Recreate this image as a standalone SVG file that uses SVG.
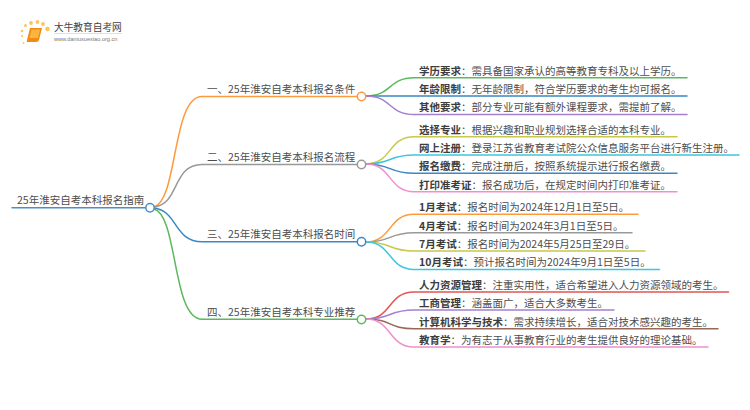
<svg xmlns="http://www.w3.org/2000/svg" width="750" height="410" viewBox="0 0 750 410">
<defs><style>
text{font-family:"Noto Sans CJK SC","Liberation Sans",sans-serif;fill:#4d4d4d;font-size:10.5px}
.b{font-weight:700;fill:#3d3d3d}
.c{fill:none;stroke-width:1.5;stroke-linecap:round}
.n{fill:#fff;stroke-width:1.5}
</style></defs>
<rect width="750" height="410" fill="#fff"/>
<g id="logo">
<g fill="#fbc55a"><circle cx="47.5" cy="29" r="2.3"/><circle cx="43" cy="24" r="1.9"/><circle cx="37.5" cy="22" r="1.9"/><circle cx="31" cy="23" r="1.9"/><circle cx="25.5" cy="25.5" r="1.5"/><circle cx="22" cy="31" r="1.3"/><circle cx="22" cy="36" r="1.1"/><circle cx="23.5" cy="43" r="0.9"/></g>
<path d="M30 28H42L39 40Q38.500 42 36 42H27Q26.500 42 27 40Z" fill="#f08c14"/><path d="M31.500 29.500H40L38 38H29.500Z" fill="#fbb540"/>
<text x="54" y="31" style="font-size:9.7px;fill:#444">大牛教育自考网</text>
<rect x="54" y="33" width="68" height="0.6" fill="#ccc"/>
<text x="54" y="41" style="font-size:5.6px;fill:#777;font-family:'Liberation Sans',sans-serif">www.daniuxuexiao.org.cn</text>
</g>
<g id="connectors">
<path class="c" stroke="#4a90c8" d="M12 207.700H146"/>
<path class="c" stroke="#ff9a3c" d="M154 207C178 200 172 96.500 202 96.500H358"/>
<path class="c" stroke="#999" d="M154 207C180 204 172 164.500 202 164.500H358"/>
<path class="c" stroke="#3a88c4" d="M154 208C178 211 174 241.800 202 241.800H358"/>
<path class="c" stroke="#5cb85c" d="M154 209C178 215 172 319.300 202 319.300H358"/>
<path class="c" stroke="#5cb85c" d="M366 96C392 96 388 77.700 414 77.700H687"/>
<path class="c" stroke="#3a88c4" d="M366 96H687"/>
<path class="c" stroke="#a67fd0" d="M366 96C392 96 388 114.500 414 114.500H687"/>
<path class="c" stroke="#c8c84a" d="M366 164C392 164 388 136.700 414 136.700H677"/>
<path class="c" stroke="#3ec6de" d="M366 164C392 164 388 155 414 155H739"/>
<path class="c" stroke="#3a88c4" d="M366 164C392 164 388 173.300 414 173.300H677"/>
<path class="c" stroke="#f08fd0" d="M366 164C392 164 388 191.700 414 191.700H677"/>
<path class="c" stroke="#ff9a3c" d="M366 242C392 242 388 214.300 414 214.300H638"/>
<path class="c" stroke="#999" d="M366 242C392 242 388 232.700 414 232.700H632"/>
<path class="c" stroke="#c8c84a" d="M366 242C392 242 388 251 414 251H645"/>
<path class="c" stroke="#3ec6de" d="M366 242C392 242 388 269.500 414 269.500H659.500"/>
<path class="c" stroke="#e05555" d="M366 319C392 319 388 292 414 292H728.500"/>
<path class="c" stroke="#a67fd0" d="M366 319C392 319 388 310 414 310H614"/>
<path class="c" stroke="#96695a" d="M366 319C392 319 388 328.700 414 328.700H718"/>
<path class="c" stroke="#f08fd0" d="M366 319C392 319 388 347 414 347H708"/>
</g>
<g id="root"><text x="17" y="204">25年淮安自考本科报名指南</text><circle class="n" cx="150" cy="207.700" r="4.200" stroke="#4a90c8"/></g>
<g id="b1"><text x="207" y="92.500">一、25年淮安自考本科报名条件</text><circle class="n" cx="361.500" cy="96.500" r="4.200" stroke="#ff9a3c"/></g>
<g id="b2"><text x="207" y="160.500">二、25年淮安自考本科报名流程</text><circle class="n" cx="361.500" cy="164.500" r="4.200" stroke="#999"/></g>
<g id="b3"><text x="207" y="238">三、25年淮安自考本科报名时间</text><circle class="n" cx="361.500" cy="241.700" r="4.200" stroke="#3a88c4"/></g>
<g id="b4"><text x="207" y="315.500">四、25年淮安自考本科专业推荐</text><circle class="n" cx="361.500" cy="319.500" r="4.200" stroke="#5cb85c"/></g>
<g id="l11"><text x="419" y="74.500"><tspan class="b">学历要求</tspan>：需具备国家承认的高等教育专科及以上学历。</text></g>
<g id="l12"><text x="419" y="92.500"><tspan class="b">年龄限制</tspan>：无年龄限制，符合学历要求的考生均可报名。</text></g>
<g id="l13"><text x="419" y="111"><tspan class="b">其他要求</tspan>：部分专业可能有额外课程要求，需提前了解。</text></g>
<g id="l21"><text x="419" y="133.500"><tspan class="b">选择专业</tspan>：根据兴趣和职业规划选择合适的本科专业。</text></g>
<g id="l22"><text x="419" y="151.500"><tspan class="b">网上注册</tspan>：登录江苏省教育考试院公众信息服务平台进行新生注册。</text></g>
<g id="l23"><text x="419" y="170"><tspan class="b">报名缴费</tspan>：完成注册后，按照系统提示进行报名缴费。</text></g>
<g id="l24"><text x="419" y="188.500"><tspan class="b">打印准考证</tspan>：报名成功后，在规定时间内打印准考证。</text></g>
<g id="l31"><text x="419" y="211"><tspan class="b">1月考试</tspan>：报名时间为2024年12月1日至5日。</text></g>
<g id="l32"><text x="419" y="229.500"><tspan class="b">4月考试</tspan>：报名时间为2024年3月1日至5日。</text></g>
<g id="l33"><text x="419" y="247.500"><tspan class="b">7月考试</tspan>：报名时间为2024年5月25日至29日。</text></g>
<g id="l34"><text x="419" y="266"><tspan class="b">10月考试</tspan>：预计报名时间为2024年9月1日至5日。</text></g>
<g id="l41"><text x="419" y="289"><tspan class="b">人力资源管理</tspan>：注重实用性，适合希望进入人力资源领域的考生。</text></g>
<g id="l42"><text x="419" y="307"><tspan class="b">工商管理</tspan>：涵盖面广，适合大多数考生。</text></g>
<g id="l43"><text x="419" y="325.500"><tspan class="b">计算机科学与技术</tspan>：需求持续增长，适合对技术感兴趣的考生。</text></g>
<g id="l44"><text x="419" y="344"><tspan class="b">教育学</tspan>：为有志于从事教育行业的考生提供良好的理论基础。</text></g>
</svg>
